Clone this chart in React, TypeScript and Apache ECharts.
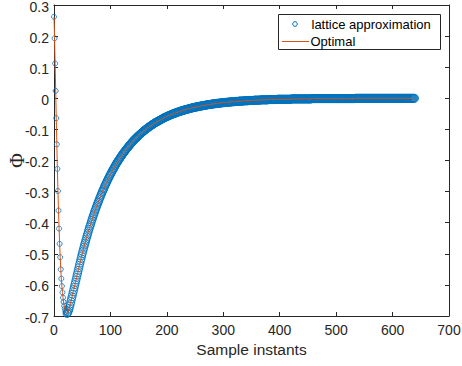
import React, { useEffect, useRef } from "react";
import * as echarts from "echarts";

// Sample instants 0..23: initial steep descent
const descentY = [
  0.262, 0.193, 0.112, 0.024, -0.064, -0.148, -0.227, -0.298, -0.361, -0.419,
  -0.468, -0.511, -0.55, -0.58, -0.604, -0.624, -0.641, -0.655, -0.667, -0.676,
  -0.683, -0.688, -0.691, -0.692,
];

// Sample instants 24..43: leaving the trough
const troughY = [
  -0.69, -0.686, -0.681, -0.675, -0.668, -0.661, -0.653, -0.645, -0.638, -0.63,
  -0.622, -0.615, -0.607, -0.599, -0.592, -0.584, -0.576, -0.568, -0.561, -0.553,
];

// Sample instants 44..203: recovery
const riseY = [
  -0.545, -0.537, -0.53, -0.522, -0.515, -0.507, -0.5, -0.493, -0.486, -0.479,
  -0.472, -0.466, -0.459, -0.453, -0.446, -0.44, -0.434, -0.427, -0.421, -0.415,
  -0.41, -0.404, -0.398, -0.392, -0.387, -0.381, -0.376, -0.371, -0.365, -0.36,
  -0.355, -0.35, -0.345, -0.34, -0.335, -0.331, -0.326, -0.321, -0.317, -0.312,
  -0.308, -0.303, -0.299, -0.295, -0.291, -0.287, -0.282, -0.278, -0.275, -0.271,
  -0.267, -0.263, -0.259, -0.256, -0.252, -0.248, -0.245, -0.241, -0.238, -0.235,
  -0.231, -0.228, -0.225, -0.222, -0.218, -0.215, -0.212, -0.209, -0.206, -0.203,
  -0.2, -0.198, -0.195, -0.192, -0.189, -0.187, -0.184, -0.181, -0.179, -0.176,
  -0.174, -0.171, -0.169, -0.167, -0.164, -0.162, -0.16, -0.157, -0.155, -0.153,
  -0.151, -0.149, -0.146, -0.144, -0.142, -0.14, -0.138, -0.136, -0.134, -0.132,
  -0.131, -0.129, -0.127, -0.125, -0.123, -0.122, -0.12, -0.118, -0.117, -0.115,
  -0.113, -0.112, -0.11, -0.108, -0.107, -0.105, -0.104, -0.102, -0.101, -0.1,
  -0.098, -0.097, -0.095, -0.094, -0.093, -0.091, -0.09, -0.089, -0.088, -0.086,
  -0.085, -0.084, -0.083, -0.082, -0.08, -0.079, -0.078, -0.077, -0.076, -0.075,
  -0.074, -0.073, -0.072, -0.071, -0.07, -0.069, -0.068, -0.067, -0.066, -0.065,
  -0.064, -0.063, -0.062, -0.061, -0.06, -0.06, -0.059, -0.058, -0.057, -0.056,
];

// Sample instants 204..403: slow settling
const decayY = [
  -0.055, -0.055, -0.054, -0.053, -0.052, -0.052, -0.051, -0.05, -0.049, -0.049,
  -0.048, -0.047, -0.047, -0.046, -0.045, -0.045, -0.044, -0.043, -0.043, -0.042,
  -0.042, -0.041, -0.04, -0.04, -0.039, -0.039, -0.038, -0.038, -0.037, -0.037,
  -0.036, -0.036, -0.035, -0.035, -0.034, -0.034, -0.033, -0.033, -0.032, -0.032,
  -0.031, -0.031, -0.03, -0.03, -0.03, -0.029, -0.029, -0.028, -0.028, -0.028,
  -0.027, -0.027, -0.026, -0.026, -0.026, -0.025, -0.025, -0.025, -0.024, -0.024,
  -0.024, -0.023, -0.023, -0.023, -0.022, -0.022, -0.022, -0.021, -0.021, -0.021,
  -0.02, -0.02, -0.02, -0.02, -0.019, -0.019, -0.019, -0.018, -0.018, -0.018,
  -0.018, -0.017, -0.017, -0.017, -0.017, -0.016, -0.016, -0.016, -0.016, -0.016,
  -0.015, -0.015, -0.015, -0.015, -0.014, -0.014, -0.014, -0.014, -0.014, -0.013,
  -0.013, -0.013, -0.013, -0.013, -0.013, -0.012, -0.012, -0.012, -0.012, -0.012,
  -0.012, -0.011, -0.011, -0.011, -0.011, -0.011, -0.011, -0.01, -0.01, -0.01,
  -0.01, -0.01, -0.01, -0.01, -0.009, -0.009, -0.009, -0.009, -0.009, -0.009,
  -0.009, -0.009, -0.008, -0.008, -0.008, -0.008, -0.008, -0.008, -0.008, -0.008,
  -0.008, -0.007, -0.007, -0.007, -0.007, -0.007, -0.007, -0.007, -0.007, -0.007,
  -0.007, -0.006, -0.006, -0.006, -0.006, -0.006, -0.006, -0.006, -0.006, -0.006,
  -0.006, -0.006, -0.005, -0.005, -0.005, -0.005, -0.005, -0.005, -0.005, -0.005,
  -0.005, -0.005, -0.005, -0.005, -0.005, -0.005, -0.004, -0.004, -0.004, -0.004,
  -0.004, -0.004, -0.004, -0.004, -0.004, -0.004, -0.004, -0.004, -0.004, -0.004,
  -0.004, -0.004, -0.003, -0.003, -0.003, -0.003, -0.003, -0.003, -0.003, -0.003,
];

// Sample instants 404..639: flat tail
const tailY = [
  -0.003, -0.003, -0.003, -0.003, -0.003, -0.003, -0.003, -0.003, -0.003, -0.003,
  -0.003, -0.003, -0.003, -0.003, -0.003, -0.003, -0.003,
  -0.002, -0.002, -0.002, -0.002, -0.002, -0.002, -0.002, -0.002, -0.002, -0.002,
  -0.002, -0.002, -0.002, -0.002, -0.002, -0.002, -0.002, -0.002, -0.002, -0.002,
  -0.002, -0.002, -0.002, -0.002, -0.002, -0.002, -0.002, -0.002, -0.002, -0.002,
  -0.002, -0.002, -0.002, -0.002, -0.002, -0.002,
  -0.001, -0.001, -0.001, -0.001, -0.001, -0.001, -0.001, -0.001, -0.001, -0.001,
  -0.001, -0.001, -0.001, -0.001, -0.001, -0.001, -0.001, -0.001, -0.001, -0.001,
  -0.001, -0.001, -0.001, -0.001, -0.001, -0.001, -0.001, -0.001, -0.001, -0.001,
  -0.001, -0.001, -0.001, -0.001, -0.001, -0.001, -0.001, -0.001, -0.001, -0.001,
  -0.001, -0.001, -0.001, -0.001, -0.001, -0.001, -0.001, -0.001, -0.001, -0.001,
  -0.001, -0.001, -0.001, -0.001, -0.001, -0.001, -0.001, -0.001, -0.001, -0.001,
  -0.001, -0.001, -0.001, -0.001, -0.001, -0.001, -0.001, -0.001, -0.001, -0.001,
  -0.001, -0.001, -0.001, -0.001, -0.001, -0.001, -0.001,
  0, 0, 0, 0, 0, 0, 0, 0, 0, 0,
  0, 0, 0, 0, 0, 0, 0, 0, 0, 0,
  0, 0, 0, 0, 0, 0, 0, 0, 0, 0,
  0, 0, 0, 0, 0, 0, 0, 0, 0, 0,
  0, 0, 0, 0, 0, 0, 0, 0, 0, 0,
  0, 0, 0, 0, 0, 0, 0, 0, 0, 0,
  0, 0, 0, 0, 0, 0, 0, 0, 0, 0,
  0, 0, 0, 0, 0, 0, 0, 0, 0, 0,
  0, 0, 0, 0, 0, 0, 0, 0, 0, 0,
  0, 0, 0, 0, 0, 0, 0, 0, 0, 0,
  0, 0, 0, 0, 0, 0,
];

const latticeY = [...descentY, ...troughY, ...riseY, ...decayY, ...tailY];
const optimalY = latticeY;
const sampleX = latticeY.map((_, i) => i);

const seriesNames = ["lattice approximation", "Optimal"];
const xAxisTitle = "Sample instants";
const yAxisTitle = "Φ";
const xRange = { min: 0, max: 700, step: 100 };
const yRange = { min: -0.7, max: 0.3, step: 0.1 };

const AXIS = "#262626";
const BLUE = "#0072BD";
const ORANGE = "#D95319";
const SANS = "'Liberation Sans', Arial, Helvetica, sans-serif";
const SERIF = "'Liberation Serif', 'DejaVu Serif', serif";

export default function App() {
  const ref = useRef<HTMLDivElement>(null);
  useEffect(() => {
    if (!ref.current) return;
    const chart = echarts.init(ref.current, undefined, { renderer: "svg" });
    const lineStyle = { color: AXIS, width: 1 };
    const xBase = {
      type: "value" as const,
      min: xRange.min,
      max: xRange.max,
      interval: xRange.step,
      splitLine: { show: false },
    };
    const yBase = {
      type: "value" as const,
      min: yRange.min,
      max: yRange.max,
      interval: yRange.step,
      splitLine: { show: false },
    };
    chart.setOption({
      animation: false,
      backgroundColor: "#ffffff",
      grid: {
        left: 54,
        right: 13,
        top: 5,
        bottom: 50,
        containLabel: false,
        outerBoundsMode: "none",
      },
      xAxis: [
        {
          ...xBase,
          position: "bottom",
          axisLine: { show: true, onZero: false, lineStyle },
          axisTick: { show: true, inside: true, length: 4, lineStyle },
          axisLabel: { color: AXIS, fontSize: 14, fontFamily: SANS, margin: 7 },
          name: xAxisTitle,
          nameLocation: "middle",
          nameGap: 25,
          nameTextStyle: { color: AXIS, fontSize: 15.5, fontFamily: SANS },
        },
        {
          ...xBase,
          position: "top",
          axisLine: { show: true, onZero: false, lineStyle },
          axisTick: { show: true, inside: true, length: 4, lineStyle },
          axisLabel: { show: false },
        },
      ],
      yAxis: [
        {
          ...yBase,
          position: "left",
          axisLine: { show: true, onZero: false, lineStyle },
          axisTick: { show: true, inside: true, length: 4, lineStyle },
          axisLabel: {
            color: AXIS,
            fontSize: 14,
            fontFamily: SANS,
            margin: 5,
            verticalAlign: "top",
            lineHeight: 3,
            formatter: (v: number) => String(Math.round(v * 10) / 10),
          },
          name: yAxisTitle,
          nameLocation: "middle",
          nameGap: 27,
          nameRotate: 90,
          nameMoveOverlap: false,
          nameTextStyle: { color: AXIS, fontSize: 20, fontFamily: SERIF },
        },
        {
          ...yBase,
          position: "right",
          axisLine: { show: true, onZero: false, lineStyle },
          axisTick: { show: true, inside: true, length: 4, lineStyle },
          axisLabel: { show: false },
        },
      ],
      series: [
        {
          name: seriesNames[0],
          type: "scatter",
          data: sampleX.map((x, i) => [x, latticeY[i]]),
          symbol: "circle",
          symbolSize: (_v: unknown, p: { dataIndex: number }) => (p.dataIndex < 23 ? 5 : 8),
          itemStyle: { color: "rgba(0,0,0,0)", borderColor: BLUE, borderWidth: 1 },
          silent: true,
          z: 2,
        },
        {
          name: seriesNames[1],
          type: "line",
          data: sampleX.map((x, i) => [x, optimalY[i]]),
          symbol: "none",
          showSymbol: false,
          lineStyle: { color: ORANGE, width: 1 },
          silent: true,
          z: 3,
        },
      ],
      graphic: [
        {
          type: "rect",
          z: 100,
          shape: { x: 278.5, y: 14.5, width: 162, height: 35 },
          style: { fill: "#ffffff", stroke: AXIS, lineWidth: 1 },
        },
        {
          type: "circle",
          z: 101,
          shape: { cx: 295, cy: 24, r: 2.3 },
          style: { fill: "none", stroke: BLUE, lineWidth: 1 },
        },
        {
          type: "line",
          z: 101,
          shape: { x1: 282, y1: 41.5, x2: 309, y2: 41.5 },
          style: { stroke: ORANGE, lineWidth: 1 },
        },
        {
          type: "text",
          z: 101,
          x: 311.5,
          y: 24.5,
          style: {
            text: seriesNames[0],
            fontSize: 13,
            fontFamily: SANS,
            fill: "#000000",
            verticalAlign: "middle",
            align: "left",
          },
        },
        {
          type: "text",
          z: 101,
          x: 310.5,
          y: 41.5,
          style: {
            text: seriesNames[1],
            fontSize: 13,
            fontFamily: SANS,
            fill: "#000000",
            verticalAlign: "middle",
            align: "left",
          },
        },
      ],
    });
    return () => chart.dispose();
  }, []);
  return (
    <div
      ref={ref}
      style={{ position: "fixed", left: 0, top: 0, width: 462, height: 366, background: "#fff" }}
    />
  );
}
